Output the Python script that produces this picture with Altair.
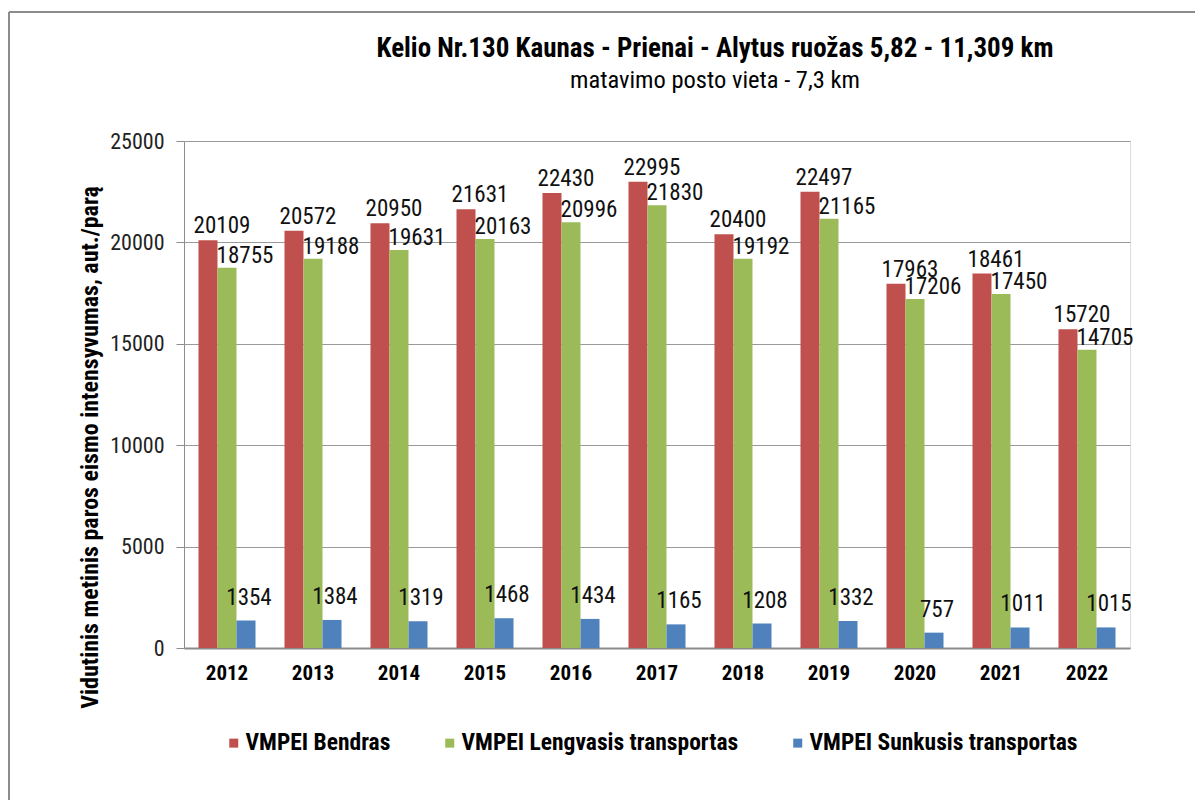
import altair as alt
import pandas as pd

years = ["2012", "2013", "2014", "2015", "2016", "2017", "2018", "2019", "2020", "2021", "2022"]
series_names = ["VMPEI Bendras", "VMPEI Lengvasis transportas", "VMPEI Sunkusis transportas"]
bendras = [20109, 20572, 20950, 21631, 22430, 22995, 20400, 22497, 17963, 18461, 15720]
lengvasis = [18755, 19188, 19631, 20163, 20996, 21830, 19192, 21165, 17206, 17450, 14705]
sunkusis = [1354, 1384, 1319, 1468, 1434, 1165, 1208, 1332, 757, 1011, 1015]
colors = ["#C0504D", "#9BBB59", "#4F81BD"]
y_ticks = [0, 5000, 10000, 15000, 20000, 25000]

rows = []
for name, vals in zip(series_names, [bendras, lengvasis, sunkusis]):
    for y, v in zip(years, vals):
        rows.append({"year": y, "series": name, "value": v})
df = pd.DataFrame(rows)

FN = "Liberation Sans Narrow, Arial Narrow, Roboto Condensed, Roboto, Liberation Sans, Arial"

x_enc = alt.X("year:N", sort=years, scale=alt.Scale(paddingInner=0.337, paddingOuter=0.1685),
              axis=alt.Axis(title=None, labelFont=FN, labelFontSize=21, labelFontWeight="bold",
                            labelColor="#000", labelAngle=0, ticks=False, tickSize=0, labelPadding=14,
                            domainColor="#8c8c8c", domainWidth=2, grid=False))
xo_enc = alt.XOffset("series:N", sort=series_names, scale=alt.Scale(domain=series_names, paddingInner=0, paddingOuter=0))
y_enc = alt.Y("value:Q", scale=alt.Scale(domain=[0, 25000], nice=False),
              axis=alt.Axis(values=y_ticks, format="d", title="Vidutinis metinis paros eismo intensyvumas, aut./parą",
                            titleFont=FN, titleFontSize=24, titleFontWeight="bold", titleColor="#000",
                            titleAngle=270, titleX=-94, titleY=306, titleAlign="center", titleBaseline="middle",
                            labelFont=FN, labelFontSize=22, labelColor="#222", labelPadding=12,
                            tickSize=8, tickColor="#8c8c8c", domainColor="#8c8c8c",
                            gridColor="#9a9a9a", gridWidth=1.2))

base = alt.Chart(df)

bars = base.mark_bar().encode(
    x=x_enc, xOffset=xo_enc, y=y_enc,
    color=alt.Color("series:N", sort=series_names,
                    scale=alt.Scale(domain=series_names, range=colors),
                    legend=alt.Legend(title=None, orient="none", direction="horizontal",
                                      legendX=38, legendY=590, symbolType="square", symbolSize=81,
                                      symbolStrokeWidth=0, labelFont=FN, labelFontSize=23.5,
                                      labelFontWeight="bold", labelColor="#000", columnPadding=47,
                                      labelOffset=0, columns=3, labelLimit=500)),
)

def labels(name, dx, dy):
    return base.transform_filter(alt.datum.series == name).mark_text(
        font=FN, fontSize=23, color="#111", dx=dx, dy=dy, baseline="alphabetic", align="center"
    ).encode(x=alt.X("year:N", sort=years), xOffset=xo_enc, y="value:Q", text="value:Q")

lab_r = labels(series_names[0], 14, -7)
lab_g = labels(series_names[1], 18, -5)
lab_b = labels(series_names[2], 3, -16)

frame_left = alt.Chart(df).mark_rule(color="#8c8c8c", strokeWidth=2).encode(
    x=alt.value(-175), y=alt.value(-129), y2=alt.value(800))
frame_top = alt.Chart(df).mark_rule(color="#8c8c8c", strokeWidth=2).encode(
    x=alt.value(-175), x2=alt.value(1100), y=alt.value(-129))

chart = alt.layer(frame_left, frame_top, bars, lab_r, lab_g, lab_b).properties(
    width=946, height=507,
    padding={"left": 176, "top": 133, "right": 65, "bottom": 152},
    autosize=alt.AutoSizeParams(type="none"),
    title=alt.TitleParams(
        text="Kelio Nr.130 Kaunas - Prienai - Alytus ruožas 5,82 - 11,309 km",
        subtitle="matavimo posto vieta - 7,3 km",
        font=FN, fontSize=27, fontWeight="bold", color="#000",
        subtitleFont=FN, subtitleFontSize=24.5, subtitleColor="#000",
        anchor="middle", dx=58, offset=-82, subtitlePadding=6),
).configure_view(stroke=None).configure(background="white")

chart.save("out.html", embed_options={"renderer": "svg", "actions": False})
